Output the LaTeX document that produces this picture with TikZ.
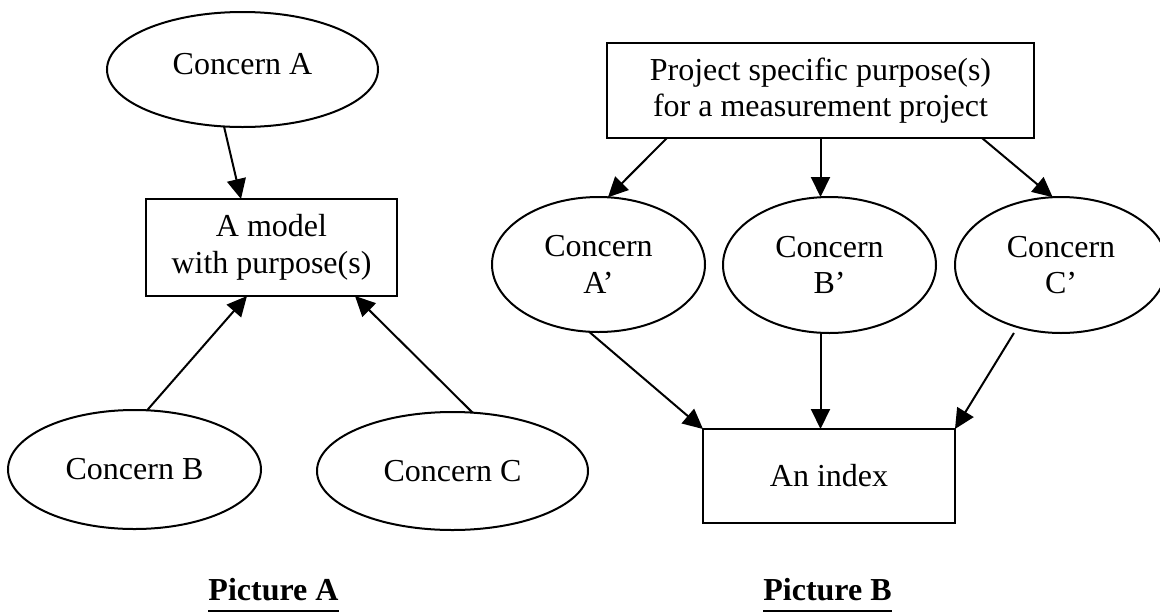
\documentclass[tikz,border=0pt]{standalone}
\usepackage{fontspec}
\setmainfont{Liberation Serif}
\usetikzlibrary{arrows.meta,shapes.geometric}
\tikzset{
  every node/.style={font=\fontsize{32}{36.5}\selectfont, inner sep=0pt, outer sep=0pt},
  oval/.style={draw, ellipse, line width=2pt, align=center},
  boxnode/.style={draw, rectangle, line width=2pt, align=center},
  arr/.style={-{Triangle[length=20pt,width=19pt]}, line width=2pt},
  caption/.style={font=\fontsize{32}{36.5}\selectfont\bfseries, anchor=base},
  captionrule/.style={line width=2.5pt},
}
\begin{document}
\begin{tikzpicture}[x=1pt,y=-1pt]
\useasboundingbox (0,0) rectangle (1160,614);

% Picture A: three concerns feeding one model
\node[oval, minimum width=271pt, minimum height=115pt, text depth=12pt] (A) at (242.5,69.5) {Concern A};
\node[boxnode, minimum width=251pt, minimum height=97pt] (M) at (271.5,247.5) {A model\\with purpose(s)};
\node[oval, minimum width=253pt, minimum height=119pt] (B) at (134.5,469.5) {Concern B};
\node[oval, minimum width=271pt, minimum height=118pt] (C) at (452.5,471) {Concern C};

\draw[arr] (A.-108.7) -- ([xshift=-30.5pt]M.north);
\draw[arr] (B.78.1) -- ([xshift=-24.5pt]M.south);
\draw[arr] (C.71.7) -- ([xshift=83.5pt]M.south);

% Picture B: project purpose -> concerns -> index
\node[boxnode, minimum width=427pt, minimum height=95pt] (P) at (820.5,90.5) {Project specific purpose(s)\\for a measurement project};
\node[oval, minimum width=213pt, minimum height=135pt] (Ap) at (598.5,264.5) {Concern\\A’};
\node[oval, minimum width=213pt, minimum height=136pt] (Bp) at (829.5,265) {Concern\\B’};
\node[oval, minimum width=212pt, minimum height=136pt] (Cp) at (1061,265) {Concern\\C’};
\node[boxnode, minimum width=252pt, minimum height=94pt] (I) at (829,476) {An index};

\draw[arr] ([xshift=-153.5pt]P.south) -- (Ap.82);
\draw[arr] (P.south) -- (P.south |- Bp.north);
\draw[arr] ([xshift=161.5pt]P.south) -- (Cp.97.5);

\draw[arr] (Ap.-98.8) -- (I.north west);
\draw[arr] (Bp.south -| P.south) -- (I.north -| P.south);
\draw[arr, shorten <=7pt] (Cp.-125.2) -- (I.north east);

% captions
\node[caption] (capA) at (273.5,600) {Picture A};
\node[caption] (capB) at (827.5,600) {Picture B};
\draw[captionrule] ([yshift=-11pt]capA.base west) -- ([yshift=-11pt]capA.base east);
\draw[captionrule] ([yshift=-11pt]capB.base west) -- ([yshift=-11pt]capB.base east);
\end{tikzpicture}
\end{document}
